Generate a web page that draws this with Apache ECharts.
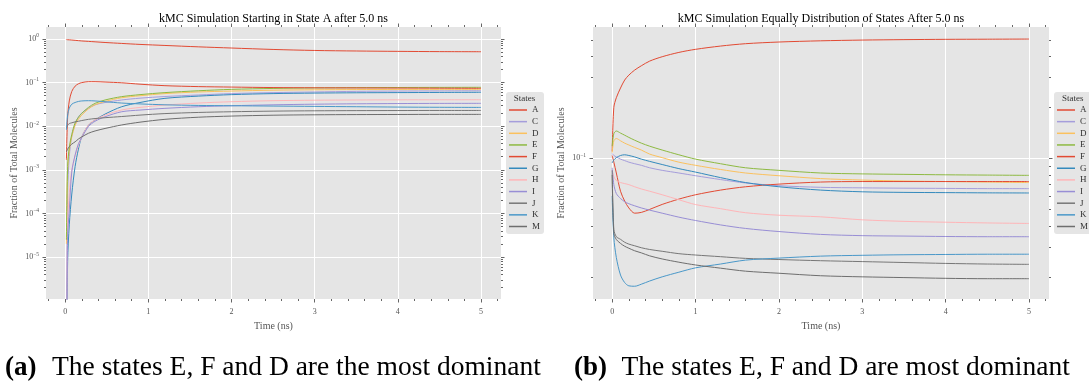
<!DOCTYPE html>
<html>
<head>
<meta charset="utf-8">
<script src="https://cdn.jsdelivr.net/npm/echarts@6/dist/echarts.min.js"></script>
<style>
  html, body { margin: 0; padding: 0; background: #fff; }
  #chart { width: 1089px; height: 383px; }
</style>
</head>
<body>
<div id="chart"></div>
<script>
// states and their line colours
const states = ['A', 'C', 'D', 'E', 'F', 'G', 'H', 'I', 'J', 'K', 'M'];
const colors = ['#E24A33', '#A59DDB', '#FBC15E', '#8EBA42', '#E24A33', '#348ABD',
                '#FFB5B8', '#988ED5', '#777777', '#4A98C9', '#6E6E6E'];

// (a) start in state A
const timeA = [0.015, 0.03, 0.05, 0.08, 0.12, 0.16, 0.2, 0.28, 0.36, 0.48, 0.68, 0.9, 1.2, 1.6, 2.0, 2.5, 3.0, 3.5, 4.0, 4.5, 5.0];
const aA = [0.97, 0.96, 0.955, 0.945, 0.93, 0.915, 0.9, 0.88, 0.86, 0.83, 0.79, 0.75, 0.71, 0.66, 0.62, 0.575, 0.545, 0.53, 0.52, 0.513, 0.51];
const aC = [1e-8, 3e-4, 2e-3, 6e-3, 0.011, 0.0165, 0.02, 0.0257, 0.031, 0.035, 0.04, 0.044, 0.048, 0.052, 0.056, 0.059, 0.061, 0.063, 0.064, 0.0645, 0.065];
const aD = [2e-5, 1e-3, 2.8e-3, 5.8e-3, 0.0105, 0.0145, 0.018, 0.025, 0.031, 0.037, 0.045, 0.05, 0.056, 0.061, 0.064, 0.067, 0.0685, 0.0693, 0.0698, 0.07, 0.07];
const aE = [2.5e-5, 1.2e-3, 3.3e-3, 6.5e-3, 0.012, 0.016, 0.0198, 0.027, 0.0335, 0.04, 0.0477, 0.053, 0.059, 0.065, 0.07, 0.0735, 0.0755, 0.0765, 0.0772, 0.0777, 0.078];
const aF = [0.0017, 0.016, 0.038, 0.063, 0.083, 0.094, 0.1, 0.105, 0.105, 0.103, 0.099, 0.092, 0.085, 0.081, 0.079, 0.077, 0.076, 0.0755, 0.075, 0.0745, 0.074];
const aG = [1e-8, 8e-6, 5.5e-5, 2.8e-4, 1.2e-3, 3e-3, 5.7e-3, 0.0105, 0.0139, 0.019, 0.028, 0.035, 0.0436, 0.049, 0.053, 0.056, 0.0575, 0.0585, 0.059, 0.0595, 0.06];
const aH = [1e-8, 5e-5, 3e-4, 1e-3, 2.1e-3, 3.6e-3, 5.7e-3, 0.0107, 0.014, 0.018, 0.0236, 0.027, 0.0306, 0.034, 0.0365, 0.0385, 0.0395, 0.04, 0.0403, 0.0404, 0.0405];
const aI = [1e-8, 3e-5, 1.2e-4, 9e-4, 2.2e-3, 4e-3, 5.5e-3, 9.8e-3, 0.013, 0.0165, 0.0215, 0.0235, 0.0257, 0.028, 0.0295, 0.031, 0.032, 0.0327, 0.0331, 0.0334, 0.0335];
const aJ = [0.009, 0.0105, 0.0115, 0.012, 0.0126, 0.013, 0.0135, 0.0144, 0.015, 0.0157, 0.0167, 0.018, 0.0195, 0.0207, 0.0215, 0.0222, 0.0226, 0.0228, 0.0229, 0.023, 0.023];
const aK = [0.0082, 0.018, 0.026, 0.032, 0.035, 0.037, 0.038, 0.0385, 0.038, 0.0365, 0.034, 0.0325, 0.031, 0.03, 0.0295, 0.029, 0.0285, 0.028, 0.0275, 0.0272, 0.027];
const aM = [0.0026, 0.003, 0.0034, 0.0039, 0.0044, 0.0051, 0.0057, 0.0069, 0.0078, 0.0089, 0.0107, 0.0124, 0.0144, 0.0161, 0.0171, 0.0179, 0.0183, 0.0185, 0.0186, 0.0187, 0.0187];

// (b) equal distribution of states
const timeB = [0, 0.02, 0.05, 0.1, 0.15, 0.2, 0.27, 0.35, 0.45, 0.6, 0.8, 1.0, 1.3, 1.6, 2.0, 2.5, 3.0, 3.5, 4.0, 4.5, 5.0];
const bA = [0.11, 0.2, 0.228, 0.26, 0.29, 0.31, 0.332, 0.352, 0.375, 0.398, 0.422, 0.44, 0.46, 0.475, 0.486, 0.494, 0.499, 0.502, 0.504, 0.505, 0.506];
const bC = [0.107, 0.104, 0.102, 0.099, 0.097, 0.095, 0.093, 0.091, 0.088, 0.085, 0.082, 0.079, 0.075, 0.0716, 0.069, 0.0675, 0.067, 0.0667, 0.0665, 0.0663, 0.0663];
const bD = [0.108, 0.127, 0.131, 0.127, 0.123, 0.12, 0.116, 0.112, 0.106, 0.101, 0.095, 0.091, 0.086, 0.082, 0.079, 0.076, 0.0745, 0.0735, 0.073, 0.0725, 0.072];
const bE = [0.118, 0.14, 0.145, 0.141, 0.137, 0.133, 0.128, 0.123, 0.118, 0.112, 0.105, 0.099, 0.093, 0.088, 0.085, 0.082, 0.081, 0.0805, 0.08, 0.0797, 0.0794];
const bF = [0.104, 0.095, 0.082, 0.064, 0.056, 0.051, 0.0475, 0.048, 0.05, 0.0535, 0.0575, 0.061, 0.065, 0.068, 0.0705, 0.0725, 0.073, 0.073, 0.073, 0.073, 0.073];
const bG = [0.094, 0.098, 0.101, 0.104, 0.105, 0.104, 0.102, 0.099, 0.096, 0.092, 0.087, 0.083, 0.077, 0.072, 0.068, 0.065, 0.0635, 0.063, 0.0628, 0.0626, 0.0625];
const bH = [0.085, 0.078, 0.074, 0.072, 0.071, 0.07, 0.068, 0.066, 0.064, 0.061, 0.057, 0.0534, 0.0505, 0.0478, 0.0462, 0.0452, 0.0434, 0.0425, 0.042, 0.0416, 0.0413];
const bI = [0.088, 0.07, 0.062, 0.058, 0.0555, 0.054, 0.0525, 0.051, 0.0495, 0.0475, 0.045, 0.043, 0.0405, 0.0386, 0.037, 0.0356, 0.035, 0.0348, 0.0346, 0.0345, 0.0345];
const bJ = [0.085, 0.038, 0.0345, 0.0333, 0.032, 0.0312, 0.0305, 0.0297, 0.029, 0.0283, 0.0274, 0.0269, 0.0263, 0.0257, 0.0253, 0.0249, 0.0246, 0.0243, 0.024, 0.0238, 0.0237];
const bK = [0.06, 0.034, 0.026, 0.0205, 0.0185, 0.0177, 0.0176, 0.0181, 0.0189, 0.02, 0.0213, 0.0226, 0.0238, 0.0251, 0.0258, 0.0265, 0.0268, 0.027, 0.0271, 0.0272, 0.0272];
const bM = [0.08, 0.036, 0.0332, 0.0315, 0.0303, 0.0295, 0.0285, 0.0277, 0.0266, 0.0255, 0.0244, 0.0235, 0.0225, 0.0216, 0.021, 0.0203, 0.02, 0.0198, 0.0196, 0.0195, 0.0195];

const valsA = [aA, aC, aD, aE, aF, aG, aH, aI, aJ, aK, aM];
const valsB = [bA, bC, bD, bE, bF, bG, bH, bI, bJ, bK, bM];

// ticks
const xTicks = [0, 1, 2, 3, 4, 5];
const xMinor = [-0.2, 0.2, 0.4, 0.6, 0.8, 1.2, 1.4, 1.6, 1.8, 2.2, 2.4, 2.6, 2.8,
                3.2, 3.4, 3.6, 3.8, 4.2, 4.4, 4.6, 4.8, 5.2];
const yTicksA = [1e-5, 1e-4, 1e-3, 1e-2, 1e-1, 1];
const yTicksB = [0.1];
const yMinorA = [];
for (let n = -6; n <= 0; n++) for (let k = 2; k <= 9; k++) yMinorA.push(+(k * Math.pow(10, n)).toPrecision(3));
const yMinorB = [0.02, 0.03, 0.04, 0.05, 0.06, 0.07, 0.08, 0.09, 0.2, 0.3, 0.4, 0.5];

const serif = '"Liberation Serif", "Times New Roman", serif';
const grey = '#555';
const xMin = -0.23, xMax = 5.24;

function xAx(g, pos, ticks, len, main) {
  return {
    gridIndex: g, type: 'value', position: pos, min: xMin, max: xMax,
    name: main ? 'Time (ns)' : '', nameLocation: 'middle', nameGap: 20,
    nameTextStyle: { fontFamily: serif, fontSize: 10, color: grey },
    axisLine: { show: false, onZero: false },
    axisTick: { show: true, length: len, customValues: ticks, lineStyle: { color: '#666', width: 1 } },
    axisLabel: { show: main, customValues: ticks, margin: 9, fontFamily: serif, fontSize: 8, color: grey },
    splitLine: { show: main, lineStyle: { color: '#ffffff', width: 1 } }
  };
}

function supLabel(v) {
  const e = Math.round(Math.log10(v));
  return '{b|10}{s|' + (e < 0 ? '\u2212' + (-e) : e) + '}';
}

function yAx(g, pos, ymin, ymax, ticks, len, main) {
  return {
    gridIndex: g, type: 'log', logBase: 10, position: pos, min: ymin, max: ymax,
    name: main ? 'Fraction of Total Molecules' : '', nameLocation: 'middle', nameGap: 27,
    nameTextStyle: { fontFamily: serif, fontSize: 10, color: grey },
    axisLine: { show: false, onZero: false },
    axisTick: { show: true, length: len, customValues: ticks, lineStyle: { color: '#666', width: 1 } },
    axisLabel: {
      show: main, customValues: ticks, margin: 7, formatter: supLabel,
      rich: {
        b: { fontFamily: serif, fontSize: 8, color: grey },
        s: { fontFamily: serif, fontSize: 5.5, color: grey, padding: [0, 0, 6, 0] }
      }
    },
    splitLine: { show: main, lineStyle: { color: '#ffffff', width: 1 } }
  };
}

const xAxes = [], yAxes = [], series = [];
[[1.1e-6, 1.88, yTicksA, yMinorA], [0.0148, 0.596, yTicksB, yMinorB]].forEach((p, g) => {
  xAxes.push(xAx(g, 'bottom', xTicks, 3.5, true), xAx(g, 'bottom', xMinor, 2, false),
             xAx(g, 'top', xTicks, 3.5, false), xAx(g, 'top', xMinor, 2, false));
  yAxes.push(yAx(g, 'left', p[0], p[1], p[2], 3.5, true), yAx(g, 'left', p[0], p[1], p[3], 2, false),
             yAx(g, 'right', p[0], p[1], p[2], 3.5, false), yAx(g, 'right', p[0], p[1], p[3], 2, false));
});

[[timeA, valsA], [timeB, valsB]].forEach((p, g) => {
  states.forEach((s, k) => {
    series.push({
      name: s, type: 'line', xAxisIndex: g * 4, yAxisIndex: g * 4,
      data: p[0].map((t, i) => [t, p[1][k][i]]),
      symbol: 'none', showSymbol: false, smooth: 0.3,
      lineStyle: { width: 1, color: colors[k] }, itemStyle: { color: colors[k] },
      z: 3
    });
  });
});

function legendAt(left) {
  return {
    data: states, orient: 'vertical', left: left, top: 92,
    icon: 'rect', itemWidth: 18, itemHeight: 1.5, itemGap: 0.65,
    padding: [12.5, 4, 2, 3], backgroundColor: '#E5E5E5', borderRadius: 3,
    textStyle: { fontFamily: serif, fontSize: 9, color: '#333', lineHeight: 11 },
    selectedMode: false
  };
}

function txt(x, y, text, size, align, weight, color) {
  return {
    type: 'text', x: x, y: y, silent: true, z: 10,
    style: { text: text, fill: color || '#000', textAlign: align, textVerticalAlign: 'middle',
             font: (weight || 'normal') + ' ' + size + 'px ' + serif }
  };
}

const chart = echarts.init(document.getElementById('chart'));
chart.setOption({
  animation: false,
  backgroundColor: '#ffffff',
  grid: [
    { left: 46, top: 27, width: 455, height: 272, show: true, backgroundColor: '#E5E5E5', borderWidth: 0 },
    { left: 593, top: 27, width: 456, height: 272, show: true, backgroundColor: '#E5E5E5', borderWidth: 0 }
  ],
  xAxis: xAxes,
  yAxis: yAxes,
  legend: [legendAt(506), legendAt(1054)],
  series: series,
  graphic: [
    txt(273.5, 18.5, 'kMC Simulation Starting in State A after 5.0 ns', 12, 'center'),
    txt(821, 18.5, 'kMC Simulation Equally Distribution of States After 5.0 ns', 12, 'center'),
    txt(524.5, 99, 'States', 9, 'center', 'normal', '#333'),
    txt(1072.8, 99, 'States', 9, 'center', 'normal', '#333'),
    txt(5, 368, '(a)', 27, 'left', 'bold'),
    txt(52, 368, 'The states E, F and D are the most dominant', 27.5, 'left'),
    txt(574, 368, '(b)', 27, 'left', 'bold'),
    txt(621.5, 368, 'The states E, F and D are most dominant', 27.5, 'left')
  ]
});
</script>
</body>
</html>
